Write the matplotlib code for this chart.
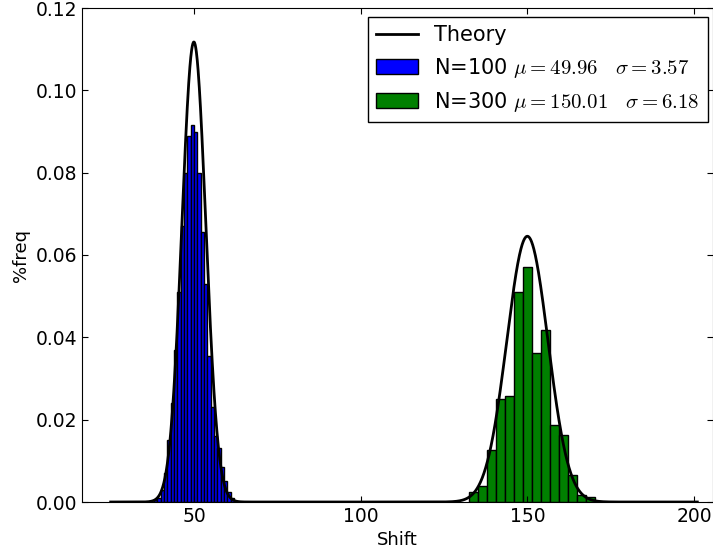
import numpy as np
import matplotlib
matplotlib.use("Agg")
import matplotlib.pyplot as plt

plt.rcParams['mathtext.fontset'] = 'cm'
plt.rcParams['font.family'] = ['DejaVu Sans']

# Blue histogram (N=100): bin left edges (width 1) and heights
blue_left_edges = [38, 39, 40, 41, 42, 43, 44, 45, 46, 47, 48, 49, 50, 51, 52, 53, 54, 55, 56, 57, 58, 59, 60, 61]
blue_heights = [0.0005, 0.001, 0.003, 0.007, 0.015, 0.024, 0.037, 0.051, 0.067, 0.080, 0.089, 0.0915,
                0.090, 0.080, 0.0656, 0.053, 0.0355, 0.023, 0.016, 0.013, 0.0085, 0.005, 0.0025, 0.001]
blue_width = 1.0

# Green histogram (N=300)
green_start = 132.6
green_width = 2.7
green_heights = [0.0025, 0.004, 0.0127, 0.025, 0.0257, 0.0509, 0.057, 0.0361, 0.0417,
                 0.0188, 0.0163, 0.0066, 0.0017, 0.0013]

mu1, s1 = 49.96, 3.57
mu2, s2 = 150.01, 6.18

fig = plt.figure(figsize=(7.13, 5.54), dpi=100)
ax = fig.add_axes([82/713, 52/554, 631/713, 494/554])

x = np.linspace(25, 201, 2000)
y = (np.exp(-0.5*((x-mu1)/s1)**2)/(s1*np.sqrt(2*np.pi)) +
     np.exp(-0.5*((x-mu2)/s2)**2)/(s2*np.sqrt(2*np.pi)))
theory, = ax.plot(x, y, color='black', linewidth=2, label='Theory', zorder=3)

blue_edges = np.array(blue_left_edges, dtype=float)
b1 = ax.bar(blue_edges, blue_heights, width=blue_width, align='edge', color='#0000ff',
            edgecolor='black', linewidth=1.0,
            label=r'N=100 $\mu=49.96\quad\sigma=3.57$')
green_edges = green_start + green_width * np.arange(len(green_heights))
b2 = ax.bar(green_edges, green_heights, width=green_width, align='edge', color='#008000',
            edgecolor='black', linewidth=1.0,
            label=r'N=300 $\mu=150.01\quad\sigma=6.18$')

ax.set_xlim(16.4, 205.7)
ax.set_ylim(0, 0.12)
ax.set_xticks([50, 100, 150, 200])
ax.set_yticks([0.0, 0.02, 0.04, 0.06, 0.08, 0.10, 0.12])
ax.set_yticklabels(['0.00', '0.02', '0.04', '0.06', '0.08', '0.10', '0.12'])
ax.tick_params(direction='in', top=True, right=True, labelsize=13.5, length=4)
ax.set_xlabel('Shift', fontsize=13)
ax.set_ylabel('%freq', fontsize=13)

leg = ax.legend([theory, b1, b2],
                ['Theory', r'N=100 $\mu=49.96\quad\sigma=3.57$', r'N=300 $\mu=150.01\quad\sigma=6.18$'],
                loc='upper right', bbox_to_anchor=(0.992, 0.982), borderaxespad=0,
                fontsize=15, fancybox=False, framealpha=1,
                edgecolor='black', handlelength=2.0, borderpad=0.4)
leg.get_frame().set_linewidth(1.0)

fig.savefig('out.png', dpi=100)
